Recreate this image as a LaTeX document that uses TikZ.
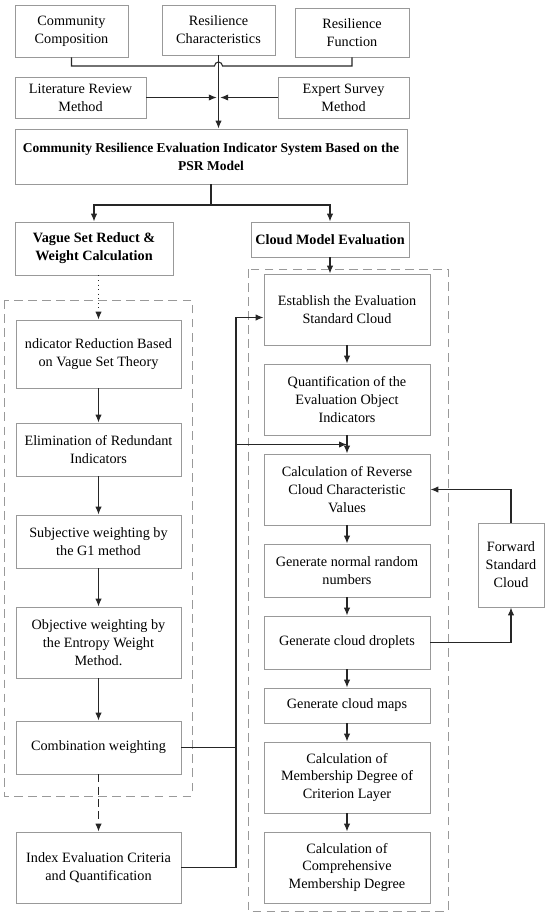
\documentclass[tikz,border=0pt]{standalone}
\usepackage{fontspec}
\setmainfont{Liberation Serif}
\usetikzlibrary{arrows.meta,calc}

\begin{document}
\begin{tikzpicture}[x=0.02cm, y=-0.02cm,
  font=\fontsize{8.1}{10.2}\selectfont,
  box/.style 2 args={draw=black!40, line width=0.5pt, align=center, inner sep=1pt,
    minimum width=#1*0.02cm, minimum height=#2*0.02cm},
  link/.style={draw=black!85, line width=0.6pt},
  group/.style={draw=black!40, line width=0.5pt, dash pattern=on 5pt off 3pt},
  >={Latex[length=4.5pt,width=3.6pt]}]
\useasboundingbox (0,0) rectangle (550,916);
\draw [group] (4,300) rectangle (192,796);
\draw [group] (248,269) rectangle (448,911);
\node [box={113}{52}] (cc) at (71.5,31) {Community\\Composition};
\node [box={113}{50}] (rc) at (218.5,30) {Resilience\\Characteristics};
\node [box={114}{49}] (rf) at (352,32.5) {Resilience\\Function};
\node [box={131}{41}] (lit) at (80.5,97.5) {Literature Review\\Method};
\node [box={131}{41}] (exp) at (343.5,97.5) {Expert Survey\\Method};
\node [box={392}{55}, font=\fontsize{7.7}{10.2}\selectfont] (psr) at (211,156.5) {\textbf{Community Resilience Evaluation Indicator System Based on the}\\\textbf{PSR Model}};
\node [box={158}{53}] (vag) at (94,248.5) {\textbf{Vague Set Reduct \&}\\\textbf{Weight Calculation}};
\node [box={158}{35}] (cme) at (330,239.5) {\textbf{Cloud Model Evaluation}};
\node [box={165}{68}] (ind) at (98.5,354) {ndicator Reduction Based\\on Vague Set Theory};
\node [box={165}{53}] (eli) at (98.5,449.5) {Elimination of Redundant\\Indicators};
\node [box={165}{53}] (sub) at (98.5,541.5) {Subjective weighting by\\the G1 method};
\node [box={165}{71}] (obj) at (98.5,642.5) {Objective weighting by\\the Entropy Weight\\Method.};
\node [box={165}{53}] (com) at (98.5,747.5) {Combination weighting};
\node [box={165}{71}] (idx) at (98.5,867.5) {Index Evaluation Criteria\\and Quantification};
\node [box={166}{71}] (est) at (347,309.5) {Establish the Evaluation\\Standard Cloud};
\node [box={166}{71}] (qua) at (347,399.5) {Quantification of the\\Evaluation Object\\Indicators};
\node [box={166}{71}] (rev) at (347,489.5) {Calculation of Reverse\\Cloud Characteristic\\Values};
\node [box={166}{53}] (gnr) at (347,570.5) {Generate normal random\\numbers};
\node [box={166}{53}] (gcd) at (347,642.5) {Generate cloud droplets};
\node [box={166}{35}] (gcm) at (347,705.5) {Generate cloud maps};
\node [box={166}{71}] (mcl) at (347,777.5) {Calculation of\\Membership Degree of\\Criterion Layer};
\node [box={166}{71}] (mcp) at (347,867.5) {Calculation of\\Comprehensive\\Membership Degree};
\node [box={66}{84}] (fsc) at (511,565) {Forward\\Standard\\Cloud};
\coordinate (bus) at (236,0);
\coordinate (fork) at (211,205);
\draw [link] (cc.south) |- (214.5,66) arc [start angle=180, end angle=0, radius=0.08cm] -| (rf.south);
\draw [link, ->] (rc.south) -- (rc.south |- psr.north);
\draw [link, ->, shorten >=1pt] (lit.east) -- (lit.east -| rc.south);
\draw [link, ->, shorten >=1pt] (exp.west) -- (exp.west -| rc.south);
\draw [link] (psr.south) -- (fork);
\draw [link, <->] (vag.north) |- (fork) -| (cme.north);
\draw [link, ->] (cme.south) -- (cme.south |- est.north);
\draw [link, ->, dotted] (ind.north |- vag.south) -- (ind.north);
\draw [link, ->] (ind) -- (eli);
\draw [link, ->] (eli) -- (sub);
\draw [link, ->] (sub) -- (obj);
\draw [link, ->] (obj) -- (com);
\draw [link, ->, dash pattern=on 4.5pt off 2.5pt] (com) -- (idx);
\draw [link, ->] (idx.east) -- (idx.east -| bus) |- ([yshift=-0.16cm]est.west);
\draw [link] (com.east) -- (com.east -| bus);
\coordinate (qr) at ($(qua.south)!0.5!(rev.north)$);
\draw [link, ->] (qr -| bus) -- (qr);
\draw [link, ->] (est) -- (qua);
\draw [link, ->] (qua) -- (rev);
\draw [link, ->] (rev) -- (gnr);
\draw [link, ->] (gnr) -- (gcd);
\draw [link, ->] (gcd) -- (gcm);
\draw [link, ->] (gcm) -- (mcl);
\draw [link, ->] (mcl) -- (mcp);
\draw [link, ->] (gcd.east) -| (fsc.south);
\draw [link, ->] (fsc.north) |- (rev.east);
\end{tikzpicture}
\end{document}
